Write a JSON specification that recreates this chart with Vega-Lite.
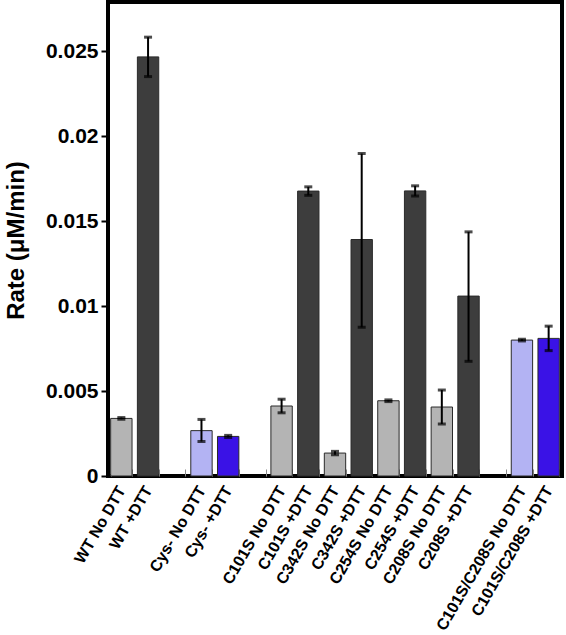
{
  "$schema": "https://vega.github.io/schema/vega-lite/v6.json",
  "autosize": "none",
  "width": 454,
  "height": 474,
  "padding": {"left": 108, "top": 2, "right": 4, "bottom": 157},
  "config": {
    "view": {"stroke": "black", "strokeWidth": 4},
    "font": "Liberation Sans",
    "axis": {"labelFont": "Liberation Sans", "titleFont": "Liberation Sans", "labelFontWeight": "bold", "titleFontWeight": "bold", "labelColor": "black", "titleColor": "black"}
  },
  "data": {
    "values": [
      {"sample": "WT No DTT", "kind": "single No DTT", "rate": 0.00339, "lo": 0.00334, "hi": 0.00344},
      {"sample": "WT +DTT", "kind": "single +DTT", "rate": 0.02467, "lo": 0.02351, "hi": 0.02583},
      {"sample": "Cys- No DTT", "kind": "Cys-like No DTT", "rate": 0.00267, "lo": 0.00203, "hi": 0.00333},
      {"sample": "Cys- +DTT", "kind": "Cys-like +DTT", "rate": 0.00233, "lo": 0.00227, "hi": 0.00239},
      {"sample": "C101S No DTT", "kind": "single No DTT", "rate": 0.00412, "lo": 0.00372, "hi": 0.00452},
      {"sample": "C101S +DTT", "kind": "single +DTT", "rate": 0.01677, "lo": 0.01652, "hi": 0.01702},
      {"sample": "C342S No DTT", "kind": "single No DTT", "rate": 0.00135, "lo": 0.00125, "hi": 0.00145},
      {"sample": "C342S +DTT", "kind": "single +DTT", "rate": 0.01392, "lo": 0.00875, "hi": 0.01898},
      {"sample": "C254S No DTT", "kind": "single No DTT", "rate": 0.00443, "lo": 0.00438, "hi": 0.00448},
      {"sample": "C254S +DTT", "kind": "single +DTT", "rate": 0.01678, "lo": 0.01648, "hi": 0.01708},
      {"sample": "C208S No DTT", "kind": "single No DTT", "rate": 0.00406, "lo": 0.00306, "hi": 0.00506},
      {"sample": "C208S +DTT", "kind": "single +DTT", "rate": 0.01059, "lo": 0.00675, "hi": 0.01437},
      {"sample": "C101S/C208S No DTT", "kind": "Cys-like No DTT", "rate": 0.0080, "lo": 0.00795, "hi": 0.00805},
      {"sample": "C101S/C208S +DTT", "kind": "Cys-like +DTT", "rate": 0.0081, "lo": 0.00738, "hi": 0.00882}
    ]
  },
  "encoding": {
    "x": {
      "field": "sample",
      "type": "nominal",
      "sort": null,
      "scale": {
        "domain": ["WT No DTT", "WT +DTT", "gap1", "Cys- No DTT", "Cys- +DTT", "gap2", "C101S No DTT", "C101S +DTT", "C342S No DTT", "C342S +DTT", "C254S No DTT", "C254S +DTT", "C208S No DTT", "C208S +DTT", "gap3", "C101S/C208S No DTT", "C101S/C208S +DTT"],
        "paddingInner": 0.2,
        "paddingOuter": 0.1
      },
      "axis": {
        "title": null,
        "domain": false,
        "tickBand": "extent",
        "tickSize": -7,
        "tickColor": "#8c8c8c",
        "tickWidth": 1,
        "labelAngle": 300,
        "labelAlign": "right",
        "labelBaseline": "middle",
        "labelFontSize": 16,
        "labelPadding": 18,
        "labelExpr": "isString(datum.value) && indexof(datum.value, 'gap') != 0 ? datum.value : ''"
      }
    }
  },
  "layer": [
    {
      "mark": {"type": "bar", "stroke": "#2a2a2a", "strokeWidth": 1},
      "encoding": {
        "y": {
          "field": "rate",
          "type": "quantitative",
          "scale": {"domain": [0, 0.0279], "nice": false},
          "axis": {
            "title": "Rate (μM/min)",
            "values": [0, 0.005, 0.01, 0.015, 0.02, 0.025],
            "format": "~g",
            "domain": false,
            "grid": false,
            "labelFontSize": 21,
            "labelPadding": 3,
            "tickSize": 7,
            "tickWidth": 2,
            "tickColor": "black",
            "titleFontSize": 24,
            "titleAngle": 270,
            "titleX": -104,
            "titleY": 238,
            "titleAlign": "center",
            "titleBaseline": "top"
          }
        },
        "color": {
          "field": "kind",
          "type": "nominal",
          "legend": null,
          "scale": {
            "domain": ["single No DTT", "single +DTT", "Cys-like No DTT", "Cys-like +DTT"],
            "range": ["#b4b4b4", "#3d3d3d", "#b3b3f3", "#3a12e6"]
          }
        }
      }
    },
    {
      "mark": {"type": "rule", "strokeWidth": 2, "color": "black"},
      "encoding": {
        "y": {"field": "lo", "type": "quantitative"},
        "y2": {"field": "hi"}
      }
    },
    {
      "mark": {"type": "tick", "thickness": 3, "size": 8, "color": "black"},
      "encoding": {
        "y": {"field": "lo", "type": "quantitative"}
      }
    },
    {
      "mark": {"type": "tick", "thickness": 3, "size": 8, "color": "black"},
      "encoding": {
        "y": {"field": "hi", "type": "quantitative"}
      }
    }
  ]
}
